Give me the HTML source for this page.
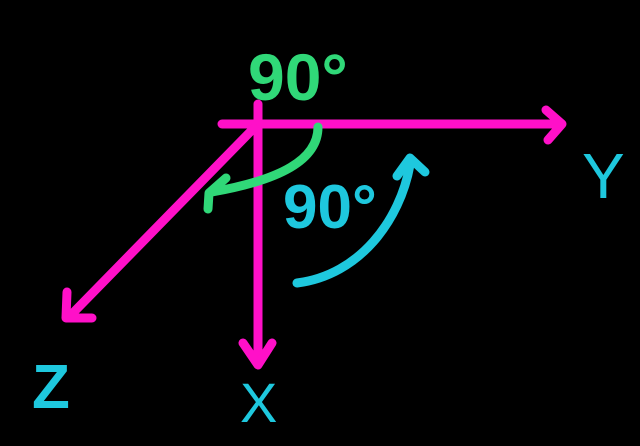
<!DOCTYPE html>
<html><head><style>
html,body{margin:0;padding:0;background:#000;width:640px;height:446px;overflow:hidden}
svg{display:block}
text{font-family:"Liberation Sans",sans-serif}
</style></head><body>
<svg width="640" height="446" viewBox="0 0 640 446" xmlns="http://www.w3.org/2000/svg">
<rect width="640" height="446" fill="#000"/>
<g stroke="#ff10c8" stroke-width="9" stroke-linecap="round" stroke-linejoin="round" fill="none">
<path d="M222 124 L560 124"/>
<path d="M546 110 L562 124 L548 140"/>
<path d="M258 104 L258 364"/>
<path d="M243 343 L258 365 L272 343"/>
<path d="M254 128 L68 318"/>
<path d="M67 292 L66 318 L92 318"/>
</g>
<g stroke="#30d878" stroke-width="9" stroke-linecap="round" stroke-linejoin="round" fill="none">
<path d="M318 127 C318 160 280 180 212 192"/>
<path d="M226 178 L209 193 L208 209"/>
</g>
<g stroke="#1ec8de" stroke-width="9" stroke-linecap="round" stroke-linejoin="round" fill="none">
<path d="M297 283 C360 275 400 220 410 165"/>
<path d="M397 176 L410 158 L425 172"/>
</g>
<text x="248" y="100" font-size="66" fill="#30d878" font-weight="bold">90°</text>
<text x="283" y="228" font-size="62" fill="#1ec8de" font-weight="bold">90°</text>
<text x="582" y="198" font-size="64" fill="#1ec8de">Y</text>
<text x="240" y="422" font-size="56" fill="#1ec8de">X</text>
<text x="32" y="408" font-size="62" fill="#1ec8de" font-weight="bold">Z</text>
</svg>
</body></html>
